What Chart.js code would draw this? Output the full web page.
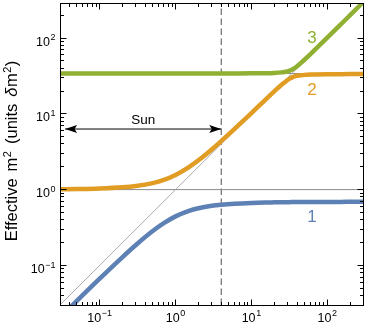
<!DOCTYPE html>
<html lang="en">
<head>
<meta charset="UTF-8">
<title>Effective m2</title>
<script src="https://cdn.jsdelivr.net/npm/chart.js"></script>
<style>
    html, body { margin: 0; padding: 0; background: #ffffff; }
    canvas { display: block; }
</style>
</head>
<body>
<canvas id="grafico" width="366" height="324"></canvas>
<script>
    // matter potential (units of dm2) and the three effective masses
    var potential = [0.03, 0.05, 0.1, 0.2, 0.3, 0.5, 0.7, 1, 1.5, 2, 3, 4, 6, 10, 15, 20, 25, 27, 30, 32, 35, 37, 40, 45, 50, 60, 70, 100, 150, 200, 300];
    var mass1 = [0.0205, 0.034, 0.0668, 0.1288, 0.1858, 0.2836, 0.3606, 0.4432, 0.5237, 0.5673, 0.6108, 0.6318, 0.6522, 0.6678, 0.6755, 0.679, 0.6815, 0.682, 0.6827, 0.6832, 0.684, 0.6842, 0.6845, 0.685, 0.6855, 0.6862, 0.687, 0.688, 0.6885, 0.689, 0.6894];
    var mass2 = [1.0095, 1.016, 1.0332, 1.0712, 1.1142, 1.2164, 1.3394, 1.5568, 1.9763, 2.4327, 3.3892, 4.368, 6.33, 10.2, 15.1, 19.8, 24.2, 25.73, 27.94, 29.14, 30.5, 31.12, 31.76, 32.34, 32.65, 32.95, 33.1, 33.29, 33.39, 33.43, 33.47];
    var mass3 = [34.0, 34.0, 34.0, 34.0, 34.0, 34.0, 34.0, 34.0, 34.0, 34.0, 34.01, 34.02, 34.1, 34.21, 34.39, 34.68, 35.22, 35.58, 36.39, 37.17, 38.81, 40.19, 42.56, 46.98, 51.67, 61.36, 71.21, 101.0, 150.9, 200.9, 300.9];

    var curveNames = ['1', '2', '3'];
    var curveColors = ['#5e81b5', '#e19c24', '#8fb032'];

    // thin guide lines: y = x and the two plateaus
    var guideLevels = [1, 34];
    var xRange = [0.03, 300];
    var yRange = [0.03, 290];

    // Sun marker
    var sunX = 4;
    var sunArrowY = 6.3;
    var sunArrowFrom = 0.035;

    var majorTicks = [0.1, 1, 10, 100];
    var tickExponents = ['\u22121', '0', '1', '2'];

    var fonte = '"Liberation Sans", Arial, sans-serif';

    function pontos(xs, ys) {
        var out = [];
        for (var i = 0; i < xs.length; i++) {
            out.push({ x: xs[i], y: ys[i] });
        }
        return out;
    }

    function tickValues(min, max) {
        var out = [];
        for (var e = -2; e <= 2; e++) {
            for (var m = 1; m <= 9; m++) {
                var v = m * Math.pow(10, e);
                if (v >= min * 0.999 && v <= max * 1.001) out.push({ v: v, major: m === 1 });
            }
        }
        return out;
    }

    function arrowHead(ctx, x, y, dir) {
        ctx.beginPath();
        ctx.moveTo(x, y);
        ctx.lineTo(x - dir * 12, y - 3.9);
        ctx.lineTo(x - dir * 9.5, y);
        ctx.lineTo(x - dir * 12, y + 3.9);
        ctx.closePath();
        ctx.fill();
    }

    function power10(ctx, exp, xRight, xCenter, yBase) {
        ctx.font = '12.5px ' + fonte;
        var wBase = ctx.measureText('10').width;
        ctx.font = '9px ' + fonte;
        var wExp = ctx.measureText(exp).width;
        var total = wBase + 0.6 + wExp;
        var x0 = xCenter !== null ? xCenter - total / 2 : xRight - total;
        ctx.textAlign = 'left';
        ctx.textBaseline = 'alphabetic';
        ctx.font = '12.5px ' + fonte;
        ctx.fillText('10', x0, yBase);
        ctx.font = '9px ' + fonte;
        ctx.fillText(exp, x0 + wBase + 0.6, yBase - 5.2);
    }

    var decoracao = {
        id: 'decoracao',
        afterDatasetsDraw: function (chart) {
            var ctx = chart.ctx;
            var area = chart.chartArea;
            var sx = chart.scales.x;
            var sy = chart.scales.y;
            ctx.save();

            // Sun arrow heads and label
            ctx.fillStyle = '#000000';
            var ya = sy.getPixelForValue(sunArrowY);
            arrowHead(ctx, sx.getPixelForValue(sunArrowFrom), ya, -1);
            arrowHead(ctx, sx.getPixelForValue(sunX), ya, 1);
            ctx.font = '13.5px ' + fonte;
            ctx.textAlign = 'center';
            ctx.textBaseline = 'middle';
            ctx.fillText('Sun', sx.getPixelForValue(0.375), sy.getPixelForValue(8.3));

            // curve labels
            var labelY = [0.426, 20.6, 100];
            ctx.font = '17px ' + fonte;
            for (var i = 0; i < curveNames.length; i++) {
                ctx.fillStyle = curveColors[i];
                ctx.fillText(curveNames[i], sx.getPixelForValue(63), sy.getPixelForValue(labelY[i]));
            }

            // frame
            var L = Math.floor(area.left) + 0.5;
            var R = Math.floor(area.right) + 0.5;
            var T = Math.floor(area.top) + 0.5;
            var B = Math.floor(area.bottom) + 0.5;
            ctx.strokeStyle = '#000000';
            ctx.lineWidth = 1;
            ctx.strokeRect(L, T, R - L, B - T);

            // ticks on all four sides, pointing inwards
            ctx.beginPath();
            tickValues(xRange[0], xRange[1]).forEach(function (t) {
                var p = Math.floor(sx.getPixelForValue(t.v)) + 0.5;
                var len = t.major ? 6 : 3.5;
                ctx.moveTo(p, B); ctx.lineTo(p, B - len);
                ctx.moveTo(p, T); ctx.lineTo(p, T + len);
            });
            tickValues(yRange[0], yRange[1]).forEach(function (t) {
                var p = Math.floor(sy.getPixelForValue(t.v)) + 0.5;
                var len = t.major ? 6 : 3.5;
                ctx.moveTo(L, p); ctx.lineTo(L + len, p);
                ctx.moveTo(R, p); ctx.lineTo(R - len, p);
            });
            ctx.stroke();

            // tick labels
            ctx.fillStyle = '#000000';
            for (var k = 0; k < majorTicks.length; k++) {
                power10(ctx, tickExponents[k], null, sx.getPixelForValue(majorTicks[k]), area.bottom + 16.5);
                power10(ctx, tickExponents[k], area.left - 4.5, null, sy.getPixelForValue(majorTicks[k]) + 7.5);
            }

            // y axis title
            ctx.translate(17, (area.top + area.bottom) / 2 - 3);
            ctx.rotate(-Math.PI / 2);
            var partes = [
                { t: 'Effective', f: '16.5px', dy: 0, gap: 7 },
                { t: 'm', f: '16.5px', dy: 0, gap: 0.5 },
                { t: '2', f: '11px', dy: -6.5, gap: 7 },
                { t: '(units', f: '16.5px', dy: 0, gap: 7 },
                { t: '\u03b4', f: 'italic 16.5px', dy: 0, gap: 0.5 },
                { t: 'm', f: '16.5px', dy: 0, gap: 0.5 },
                { t: '2', f: '11px', dy: -6.5, gap: 0.5 },
                { t: ')', f: '16.5px', dy: 0, gap: 0 }
            ];
            var total = 0;
            partes.forEach(function (p) {
                ctx.font = p.f + ' ' + fonte;
                p.w = ctx.measureText(p.t).width;
                total += p.w + p.gap;
            });
            var xx = -total / 2;
            ctx.textAlign = 'left';
            ctx.textBaseline = 'alphabetic';
            partes.forEach(function (p) {
                ctx.font = p.f + ' ' + fonte;
                ctx.fillText(p.t, xx, p.dy);
                xx += p.w + p.gap;
            });

            ctx.restore();
        }
    };

    var datasets = [];
    var series = [mass1, mass2, mass3];
    for (var s = 0; s < series.length; s++) {
        datasets.push({
            label: 'm' + curveNames[s],
            data: pontos(potential, series[s]),
            borderColor: curveColors[s],
            borderWidth: 4.5,
            cubicInterpolationMode: 'monotone',
            clip: 0
        });
    }
    datasets.push({
        label: 'y = x',
        data: pontos(xRange, xRange),
        borderColor: '#a8a8a8',
        borderWidth: 1,
        clip: 0
    });
    guideLevels.forEach(function (lv) {
        datasets.push({
            label: 'level ' + lv,
            data: pontos(xRange, [lv, lv]),
            borderColor: '#8a8a8a',
            borderWidth: 1,
            clip: 0
        });
    });
    datasets.push({
        label: 'Sun line',
        data: pontos([sunX, sunX], yRange),
        borderColor: '#4d4d4d',
        borderWidth: 1,
        borderDash: [6.5, 3.5],
        clip: 0
    });
    datasets.push({
        label: 'Sun arrow',
        data: pontos([sunArrowFrom, sunX], [sunArrowY, sunArrowY]),
        borderColor: '#000000',
        borderWidth: 1,
        clip: 0
    });

    var ctx = document.getElementById('grafico').getContext('2d');
    window.grafico = new Chart(ctx, {
        type: 'line',
        data: { datasets: datasets },
        options: {
            responsive: false,
            animation: false,
            devicePixelRatio: 1,
            layout: { padding: { top: 3, right: 2.5, left: 0, bottom: 0 } },
            elements: { point: { radius: 0 } },
            plugins: {
                legend: { display: false },
                tooltip: { enabled: false }
            },
            scales: {
                x: {
                    type: 'logarithmic',
                    min: xRange[0],
                    max: xRange[1],
                    ticks: { display: false },
                    grid: { display: false },
                    border: { display: false },
                    afterFit: function (scale) { scale.height = 19; }
                },
                y: {
                    type: 'logarithmic',
                    min: yRange[0],
                    max: yRange[1],
                    ticks: { display: false },
                    grid: { display: false },
                    border: { display: false },
                    afterFit: function (scale) { scale.width = 60; }
                }
            }
        },
        plugins: [decoracao]
    });
</script>
</body>
</html>
